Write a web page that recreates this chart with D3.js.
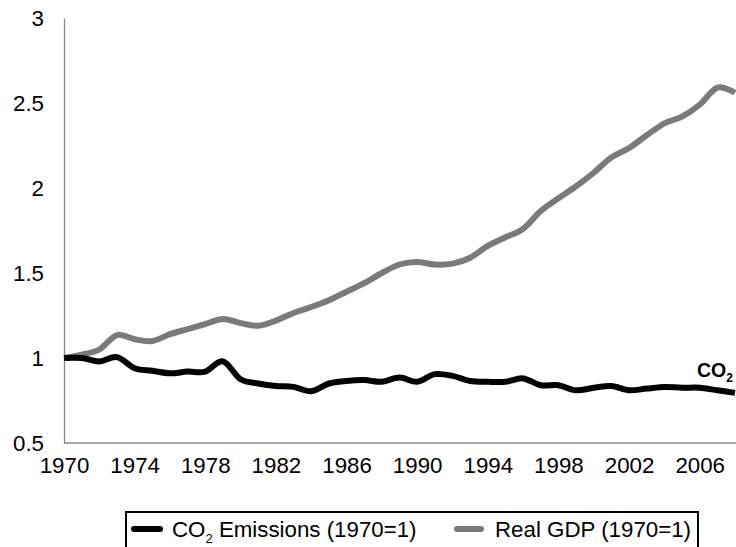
<!DOCTYPE html>
<html><head><meta charset="utf-8">
<script src="https://cdn.jsdelivr.net/npm/d3@7"></script>
<style>html,body{margin:0;padding:0;background:#fff;overflow:hidden}svg{display:block;font-family:"Liberation Sans",Arial,sans-serif}</style>
</head><body>
<svg id="c" width="736" height="547"></svg>
<script>
const years = d3.range(1970, 2009);
const co2 = [1.00,1.00,0.98,1.005,0.94,0.925,0.91,0.92,0.92,0.98,0.875,0.85,0.835,0.83,0.805,0.85,0.865,0.87,0.86,0.885,0.86,0.905,0.895,0.865,0.86,0.86,0.88,0.84,0.84,0.81,0.825,0.835,0.81,0.82,0.83,0.825,0.825,0.81,0.795];
const gdp = [1.00,1.02,1.05,1.135,1.11,1.10,1.14,1.17,1.20,1.23,1.205,1.19,1.22,1.265,1.30,1.34,1.39,1.44,1.50,1.55,1.565,1.55,1.555,1.59,1.66,1.71,1.76,1.865,1.94,2.01,2.09,2.18,2.235,2.31,2.38,2.42,2.49,2.59,2.56];
const yTicks = [0.5,1,1.5,2,2.5,3];
const xTicks = [1970,1974,1978,1982,1986,1990,1994,1998,2002,2006];

const FS = 22.3;
const svg = d3.select("#c");
const x = d3.scaleLinear().domain([1970, 2008]).range([64, 735]);
const y = d3.scaleLinear().domain([0.5, 3]).range([443, 18]);

// y axis
const ya = svg.append("g").attr("transform","translate(64,0)")
  .call(d3.axisLeft(y).tickValues(yTicks).tickSize(0).tickPadding(20).tickFormat(d3.format("")));
ya.select(".domain").attr("stroke","#888").attr("stroke-width",1.3);
ya.selectAll("text").attr("font-size",FS).attr("fill","#000").attr("font-family","Liberation Sans, Arial, sans-serif");

// x axis
svg.append("line").attr("x1",64).attr("x2",736).attr("y1",443).attr("y2",443).attr("stroke","#888").attr("stroke-width",1.3);
const xa = svg.append("g").attr("transform","translate(0,443)")
  .call(d3.axisBottom(x).tickValues(xTicks).tickSize(0).tickPadding(14).tickFormat(d3.format("d")));
xa.select(".domain").remove();
xa.selectAll("text").attr("font-size",FS).attr("fill","#000").attr("font-family","Liberation Sans, Arial, sans-serif");

const line = d3.line().x((d,i)=>x(years[i])).y(d=>y(d)).curve(d3.curveCatmullRom.alpha(0));
svg.append("path").datum(gdp).attr("d",line).attr("fill","none").attr("stroke","#7a7a7a").attr("stroke-width",6).attr("stroke-linejoin","round");
svg.append("path").datum(co2).attr("d",line).attr("fill","none").attr("stroke","#000").attr("stroke-width",6).attr("stroke-linejoin","round");

// CO2 label
const lab = svg.append("text").attr("x",697).attr("y",377).attr("font-size",19.5).attr("font-weight","bold").attr("fill","#000");
lab.append("tspan").text("CO");
lab.append("tspan").attr("font-size",12).attr("dy",5).text("2");

// legend
svg.append("rect").attr("x",126).attr("y",512).attr("width",572).attr("height",60).attr("fill","none").attr("stroke","#000").attr("stroke-width",2);
svg.append("line").attr("x1",134).attr("x2",160).attr("y1",529).attr("y2",529).attr("stroke","#000").attr("stroke-width",6).attr("stroke-linecap","round");
const t1 = svg.append("text").attr("x",172).attr("y",537).attr("font-size",FS).attr("fill","#000");
t1.append("tspan").text("CO");
t1.append("tspan").attr("font-size",13).attr("dy",6).text("2");
t1.append("tspan").attr("dy",-6).text(" Emissions (1970=1)");
svg.append("line").attr("x1",457).attr("x2",481).attr("y1",529).attr("y2",529).attr("stroke","#7a7a7a").attr("stroke-width",6).attr("stroke-linecap","round");
svg.append("text").attr("x",495).attr("y",537).attr("font-size",FS).attr("fill","#000").text("Real GDP (1970=1)");
</script>
</body></html>
